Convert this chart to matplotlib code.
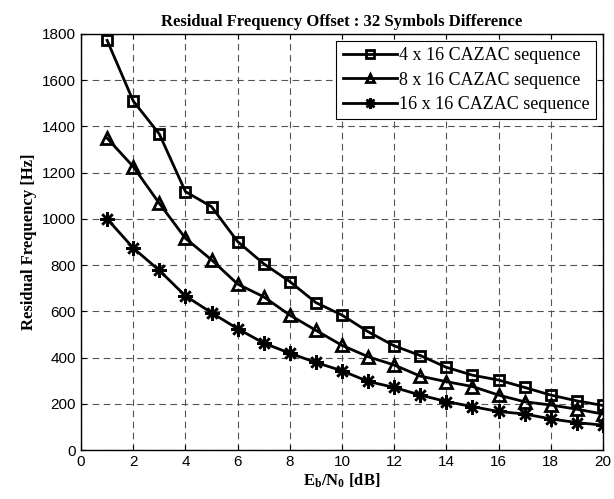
"""Residual frequency offset vs Eb/N0 for three CAZAC sequence lengths."""

import matplotlib
matplotlib.use("Agg")
import matplotlib.pyplot as plt

ebn0 = list(range(1, 21))

seq_4x16 = [1772, 1510, 1367, 1118, 1053, 902, 806, 729, 638, 584,
            512, 451, 409, 358, 324, 303, 271, 238, 213, 193]
seq_8x16 = [1349, 1226, 1067, 916, 823, 718, 663, 584, 518, 453,
            404, 368, 320, 296, 275, 238, 209, 195, 177, 156]
seq_16x16 = [1000, 874, 777, 667, 594, 525, 463, 419, 379, 343,
             297, 271, 238, 210, 188, 167, 156, 135, 119, 108]

labels = ["4 x 16 CAZAC sequence", "8 x 16 CAZAC sequence", "16 x 16 CAZAC sequence"]

plt.rcParams["mathtext.fontset"] = "custom"
plt.rcParams["mathtext.rm"] = "Liberation Serif:bold"
plt.rcParams["mathtext.it"] = "Liberation Serif:bold"

fig = plt.figure(figsize=(6.14, 4.99), dpi=100)
ax = fig.add_axes([0.132, 0.098, 0.850, 0.834])

ax.plot(ebn0, seq_4x16, color="black", lw=2, marker="s", ms=7.5,
        mfc="none", mew=2, label=labels[0])
ax.plot(ebn0, seq_8x16, color="black", lw=2, marker="^", ms=8.5,
        mfc="none", mew=2, label=labels[1])
ax.plot(ebn0, seq_16x16, color="black", lw=2, marker=(8, 2, 0), ms=10.5,
        mew=1.8, label=labels[2])

ax.set_xlim(0, 20)
ax.set_ylim(0, 1800)
ax.set_xticks(range(0, 21, 2))
ax.set_yticks(range(0, 1801, 200))
ax.grid(True, color="#555555", linestyle=(0, (6, 4)), linewidth=0.8)
ax.tick_params(direction="in", top=True, right=True, labelsize=11)
for lab in ax.get_xticklabels() + ax.get_yticklabels():
    lab.set_family("Liberation Sans")
for sp in ax.spines.values():
    sp.set_linewidth(1.0)

ax.set_title("Residual Frequency Offset : 32 Symbols Difference",
             family="Liberation Serif", weight="bold", fontsize=12, pad=6)
ax.set_ylabel("Residual Frequency [Hz]", family="Liberation Serif",
              weight="bold", fontsize=12)
ax.set_xlabel(r"$\mathrm{E_b/N_0}$ [dB]", family="Liberation Serif",
              weight="bold", fontsize=12, labelpad=2)

leg = ax.legend(loc="upper right", prop={"family": "Liberation Serif", "size": 13},
                fancybox=False, edgecolor="black", framealpha=1,
                borderaxespad=0.4, handlelength=3.0, handletextpad=0.1,
                labelspacing=0.4, borderpad=0.35, markerscale=0.75)
leg.get_frame().set_linewidth(0.8)

fig.savefig("out.png", dpi=100)
